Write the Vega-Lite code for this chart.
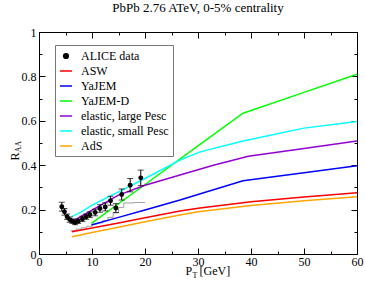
{
  "$schema": "https://vega.github.io/schema/vega-lite/v6.json",
  "width": 318,
  "height": 222,
  "autosize": {"type": "none"},
  "padding": {"left": 39, "top": 32, "right": 8, "bottom": 33},
  "title": {"text": "PbPb 2.76 ATeV, 0-5% centrality", "anchor": "middle", "frame": "group", "baseline": "alphabetic", "offset": 1, "font": "Liberation Serif, Times New Roman, serif", "fontSize": 13, "fontWeight": "normal", "color": "black"},
  "config": {
    "font": "Times New Roman, Liberation Serif, serif",
    "view": {"stroke": "black", "strokeWidth": 1},
    "axis": {"grid": false, "labelFont": "Times New Roman, Liberation Serif, serif", "titleFont": "Liberation Serif, Times New Roman, serif", "labelFontSize": 12, "titleFontSize": 12, "titleFontWeight": "normal", "labelColor": "black", "titleColor": "black", "domainColor": "black", "tickColor": "black", "labelFlush": false, "labelOverlap": false},
    "legend": {"labelFont": "Times New Roman, Liberation Serif, serif", "titleFont": "Times New Roman, Liberation Serif, serif"}
  },
  "datasets": {
    "alice": [
      {"series": "ALICE data", "pt": 4.3, "raa": 0.213, "lo": 0.193, "hi": 0.233},
      {"series": "ALICE data", "pt": 4.8, "raa": 0.19, "lo": 0.175, "hi": 0.205},
      {"series": "ALICE data", "pt": 5.3, "raa": 0.168, "lo": 0.156, "hi": 0.18},
      {"series": "ALICE data", "pt": 5.8, "raa": 0.155, "lo": 0.143, "hi": 0.167},
      {"series": "ALICE data", "pt": 6.3, "raa": 0.148, "lo": 0.138, "hi": 0.158},
      {"series": "ALICE data", "pt": 6.8, "raa": 0.142, "lo": 0.132, "hi": 0.152},
      {"series": "ALICE data", "pt": 7.4, "raa": 0.148, "lo": 0.138, "hi": 0.158},
      {"series": "ALICE data", "pt": 8.2, "raa": 0.158, "lo": 0.146, "hi": 0.17},
      {"series": "ALICE data", "pt": 8.9, "raa": 0.168, "lo": 0.156, "hi": 0.18},
      {"series": "ALICE data", "pt": 9.6, "raa": 0.177, "lo": 0.164, "hi": 0.19},
      {"series": "ALICE data", "pt": 10.6, "raa": 0.187, "lo": 0.172, "hi": 0.202},
      {"series": "ALICE data", "pt": 11.5, "raa": 0.205, "lo": 0.188, "hi": 0.222},
      {"series": "ALICE data", "pt": 12.5, "raa": 0.212, "lo": 0.194, "hi": 0.23},
      {"series": "ALICE data", "pt": 13.5, "raa": 0.24, "lo": 0.22, "hi": 0.26},
      {"series": "ALICE data", "pt": 14.5, "raa": 0.207, "lo": 0.187, "hi": 0.227},
      {"series": "ALICE data", "pt": 15.6, "raa": 0.268, "lo": 0.243, "hi": 0.293},
      {"series": "ALICE data", "pt": 17.2, "raa": 0.31, "lo": 0.28, "hi": 0.34},
      {"series": "ALICE data", "pt": 19.2, "raa": 0.343, "lo": 0.308, "hi": 0.378}
    ],
    "models": [
      {"series": "ASW", "pt": 6.2, "raa": 0.1},
      {"series": "ASW", "pt": 10, "raa": 0.117},
      {"series": "ASW", "pt": 15, "raa": 0.14},
      {"series": "ASW", "pt": 20, "raa": 0.163},
      {"series": "ASW", "pt": 26.6, "raa": 0.194},
      {"series": "ASW", "pt": 30, "raa": 0.206},
      {"series": "ASW", "pt": 40, "raa": 0.235},
      {"series": "ASW", "pt": 50, "raa": 0.257},
      {"series": "ASW", "pt": 60, "raa": 0.276},
      {"series": "YaJEM", "pt": 9.9, "raa": 0.131},
      {"series": "YaJEM", "pt": 15, "raa": 0.165},
      {"series": "YaJEM", "pt": 20, "raa": 0.198},
      {"series": "YaJEM", "pt": 26.6, "raa": 0.243},
      {"series": "YaJEM", "pt": 32, "raa": 0.283},
      {"series": "YaJEM", "pt": 38.5, "raa": 0.33},
      {"series": "YaJEM", "pt": 50, "raa": 0.366},
      {"series": "YaJEM", "pt": 60, "raa": 0.398},
      {"series": "YaJEM-D", "pt": 9.9, "raa": 0.138},
      {"series": "YaJEM-D", "pt": 20, "raa": 0.313},
      {"series": "YaJEM-D", "pt": 30, "raa": 0.487},
      {"series": "YaJEM-D", "pt": 38.5, "raa": 0.634},
      {"series": "YaJEM-D", "pt": 50, "raa": 0.728},
      {"series": "YaJEM-D", "pt": 60, "raa": 0.81},
      {"series": "elastic, large Pesc", "pt": 6.2, "raa": 0.146},
      {"series": "elastic, large Pesc", "pt": 8, "raa": 0.17},
      {"series": "elastic, large Pesc", "pt": 10, "raa": 0.198},
      {"series": "elastic, large Pesc", "pt": 15, "raa": 0.265},
      {"series": "elastic, large Pesc", "pt": 20, "raa": 0.31},
      {"series": "elastic, large Pesc", "pt": 26.6, "raa": 0.356},
      {"series": "elastic, large Pesc", "pt": 32.9, "raa": 0.4},
      {"series": "elastic, large Pesc", "pt": 39.5, "raa": 0.44},
      {"series": "elastic, large Pesc", "pt": 50, "raa": 0.475},
      {"series": "elastic, large Pesc", "pt": 60, "raa": 0.509},
      {"series": "elastic, small Pesc", "pt": 6.2, "raa": 0.168},
      {"series": "elastic, small Pesc", "pt": 8, "raa": 0.19},
      {"series": "elastic, small Pesc", "pt": 10, "raa": 0.22},
      {"series": "elastic, small Pesc", "pt": 15, "raa": 0.28},
      {"series": "elastic, small Pesc", "pt": 20, "raa": 0.34},
      {"series": "elastic, small Pesc", "pt": 26.6, "raa": 0.423},
      {"series": "elastic, small Pesc", "pt": 30.4, "raa": 0.46},
      {"series": "elastic, small Pesc", "pt": 38.5, "raa": 0.509},
      {"series": "elastic, small Pesc", "pt": 50, "raa": 0.567},
      {"series": "elastic, small Pesc", "pt": 60, "raa": 0.597},
      {"series": "AdS", "pt": 6.2, "raa": 0.078},
      {"series": "AdS", "pt": 10, "raa": 0.097},
      {"series": "AdS", "pt": 15, "raa": 0.12},
      {"series": "AdS", "pt": 20, "raa": 0.145},
      {"series": "AdS", "pt": 26.6, "raa": 0.176},
      {"series": "AdS", "pt": 30, "raa": 0.19},
      {"series": "AdS", "pt": 40, "raa": 0.218},
      {"series": "AdS", "pt": 50, "raa": 0.24},
      {"series": "AdS", "pt": 60, "raa": 0.258}
    ],
    "stair": [
      {"pt": 6.0, "raa": 0.105},
      {"pt": 7.0, "raa": 0.112},
      {"pt": 8.0, "raa": 0.118},
      {"pt": 9.0, "raa": 0.125},
      {"pt": 10.0, "raa": 0.135},
      {"pt": 11.0, "raa": 0.14},
      {"pt": 12.0, "raa": 0.15},
      {"pt": 13.0, "raa": 0.165},
      {"pt": 14.0, "raa": 0.185},
      {"pt": 15.0, "raa": 0.21},
      {"pt": 16.0, "raa": 0.23},
      {"pt": 18.0, "raa": 0.232},
      {"pt": 20.0, "raa": 0.232}
    ]
  },
  "resolve": {"axis": {"x": "independent", "y": "independent"}},
  "layer": [
    {
      "data": {"name": "stair"},
      "mark": {"type": "line", "interpolate": "step-after", "color": "#a0a0a0", "strokeWidth": 1},
      "encoding": {
        "x": {"field": "pt", "type": "quantitative", "scale": {"domain": [0, 60], "nice": false},
          "axis": {"orient": "top", "values": [0,5,10,15,20,25,30,35,40,45,50,55,60], "labels": false, "title": null,
            "tickSize": {"condition": {"test": "datum.value % 10 === 0", "value": -6}, "value": -3}}},
        "y": {"field": "raa", "type": "quantitative", "scale": {"domain": [0, 1], "nice": false},
          "axis": {"orient": "right", "values": [0,0.1,0.2,0.3,0.4,0.5,0.6,0.7,0.8,0.9,1], "labels": false, "title": null,
            "tickSize": {"condition": {"test": "round(datum.value*10) % 2 === 0", "value": -6}, "value": -3}}}
      }
    },
    {
      "data": {"name": "models"},
      "mark": {"type": "line", "strokeWidth": 1.5},
      "encoding": {
        "x": {"field": "pt", "type": "quantitative",
          "axis": {"orient": "bottom", "values": [0,5,10,15,20,25,30,35,40,45,50,55,60],
            "labelExpr": "datum.value % 10 === 0 ? datum.label : ''", "labelPadding": 8,
            "tickSize": {"condition": {"test": "datum.value % 10 === 0", "value": -6}, "value": -3},
            "title": "P", "titleX": 146, "titleY": 20, "titleAlign": "left", "titleBaseline": "alphabetic", "titleAnchor": null}},
        "y": {"field": "raa", "type": "quantitative",
          "axis": {"orient": "left", "values": [0,0.1,0.2,0.3,0.4,0.5,0.6,0.7,0.8,0.9,1],
            "labelExpr": "round(datum.value*10) % 2 === 0 ? toString(round(datum.value*10)/10) : ''", "labelPadding": 9,
            "tickSize": {"condition": {"test": "round(datum.value*10) % 2 === 0", "value": -6}, "value": -3},
            "title": "R", "titleX": -21, "titleY": 128, "titleAngle": 270, "titleAlign": "left", "titleBaseline": "alphabetic"}},
        "color": {"field": "series", "type": "nominal",
          "scale": {"domain": ["ALICE data", "ASW", "YaJEM", "YaJEM-D", "elastic, large Pesc", "elastic, small Pesc", "AdS"],
            "range": ["#000000", "#ff0000", "#0000ff", "#00ff00", "#9400d3", "#00ffff", "#ffa500"]},
          "legend": {"orient": "none", "legendX": 16, "legendY": 13, "title": null, "direction": "vertical",
            "labelFont": "Times New Roman, Liberation Serif, serif", "labelFontSize": 12, "labelColor": "black", "labelOffset": 8,
            "strokeColor": "#777777", "fillColor": "white", "padding": 4, "rowPadding": 2, "symbolSize": 144, "symbolType": "stroke", "symbolStrokeWidth": 1.5,
            "encode": {
              "symbols": {"update": {
                "shape": {"signal": "datum.value === 'ALICE data' ? 'circle' : 'stroke'"},
                "size": {"signal": "datum.value === 'ALICE data' ? 22 : 144"},
                "fill": {"scale": "color", "field": "value"},
                "stroke": {"scale": "color", "field": "value"},
                "strokeWidth": {"value": 1.5},
                "opacity": {"value": 1}
              }}}}}
      }
    },
    {
      "data": {"name": "alice"},
      "mark": {"type": "rule", "color": "black", "strokeWidth": 1},
      "encoding": {
        "x": {"field": "pt", "type": "quantitative",
          "axis": {"orient": "bottom", "domain": false, "ticks": false, "labels": false, "title": "T", "titleFontSize": 8, "titleX": 153, "titleY": 23, "titleAlign": "left", "titleBaseline": "alphabetic"}},
        "y": {"field": "lo", "type": "quantitative",
          "axis": {"orient": "left", "domain": false, "ticks": false, "labels": false, "title": "AA", "titleFontSize": 8, "titleX": -19, "titleY": 120, "titleAngle": 270, "titleAlign": "left", "titleBaseline": "alphabetic"}},
        "y2": {"field": "hi"}
      }
    },
    {
      "data": {"name": "alice"},
      "mark": {"type": "tick", "orient": "horizontal", "color": "black", "size": 6, "thickness": 1},
      "encoding": {
        "x": {"field": "pt", "type": "quantitative",
          "axis": {"orient": "bottom", "domain": false, "ticks": false, "labels": false, "title": "[GeV]", "titleX": 160, "titleY": 20, "titleAlign": "left", "titleBaseline": "alphabetic"}},
        "y": {"field": "lo", "type": "quantitative", "axis": null}
      }
    },
    {
      "data": {"name": "alice"},
      "mark": {"type": "tick", "orient": "horizontal", "color": "black", "size": 6, "thickness": 1},
      "encoding": {
        "x": {"field": "pt", "type": "quantitative", "axis": null},
        "y": {"field": "hi", "type": "quantitative", "axis": null}
      }
    },
    {
      "data": {"name": "alice"},
      "mark": {"type": "point", "filled": true, "size": 24, "opacity": 1},
      "encoding": {
        "x": {"field": "pt", "type": "quantitative", "axis": null},
        "y": {"field": "raa", "type": "quantitative", "axis": null},
        "color": {"field": "series", "type": "nominal"}
      }
    }
  ]
}
